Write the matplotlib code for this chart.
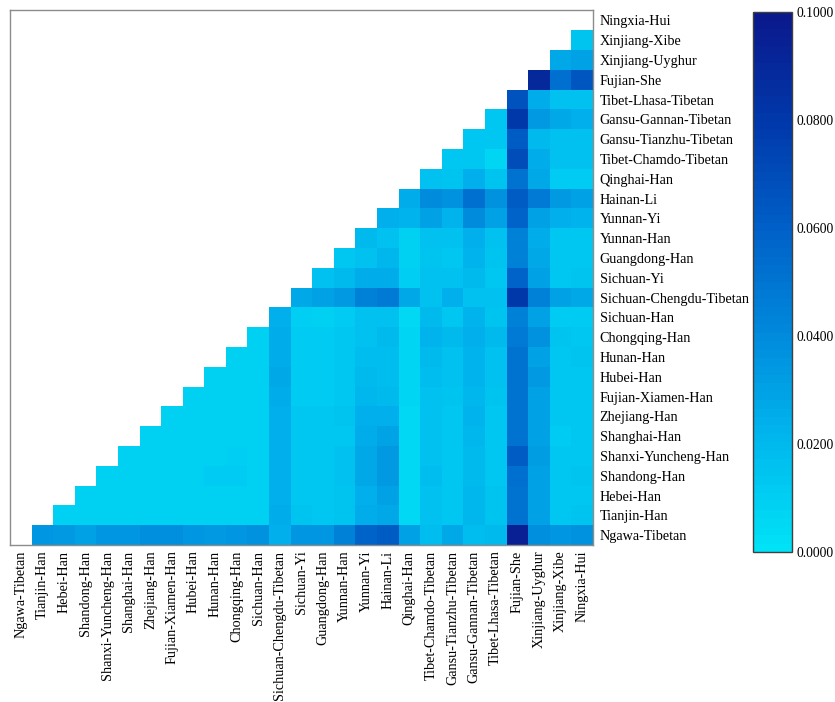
import numpy as np
import matplotlib
matplotlib.use("Agg")
import matplotlib.pyplot as plt
from matplotlib.colors import LinearSegmentedColormap

plt.rcParams["font.family"] = "serif"
plt.rcParams["font.serif"] = ["Liberation Serif", "DejaVu Serif"]

# Population order (bottom-to-top on y, left-to-right on x)
populations = [
    "Ngawa-Tibetan", "Tianjin-Han", "Hebei-Han", "Shandong-Han",
    "Shanxi-Yuncheng-Han", "Shanghai-Han", "Zhejiang-Han", "Fujian-Xiamen-Han",
    "Hubei-Han", "Hunan-Han", "Chongqing-Han", "Sichuan-Han",
    "Sichuan-Chengdu-Tibetan", "Sichuan-Yi", "Guangdong-Han", "Yunnan-Han",
    "Yunnan-Yi", "Hainan-Li", "Qinghai-Han", "Tibet-Chamdo-Tibetan",
    "Gansu-Tianzhu-Tibetan", "Gansu-Gannan-Tibetan", "Tibet-Lhasa-Tibetan",
    "Fujian-She", "Xinjiang-Uyghur", "Xinjiang-Xibe", "Ningxia-Hui",
]

# Pairwise Fst, row i holds the values against populations i+1 .. end
fst_rows = [
    [0.035, 0.034, 0.031, 0.035, 0.035, 0.038, 0.038, 0.035, 0.034, 0.035, 0.037, 0.024, 0.035,
     0.035, 0.045, 0.058, 0.062, 0.030, 0.018, 0.027, 0.018, 0.020, 0.095, 0.038, 0.035, 0.036],
    [0.008, 0.008, 0.009, 0.008, 0.008, 0.009, 0.009, 0.008, 0.009, 0.009, 0.026, 0.015, 0.014,
     0.015, 0.025, 0.028, 0.006, 0.017, 0.014, 0.021, 0.015, 0.050, 0.030, 0.013, 0.015],
    [0.008, 0.008, 0.008, 0.009, 0.009, 0.009, 0.009, 0.009, 0.009, 0.024, 0.014, 0.014, 0.015,
     0.024, 0.030, 0.006, 0.017, 0.014, 0.021, 0.015, 0.050, 0.030, 0.013, 0.014],
    [0.008, 0.008, 0.008, 0.009, 0.009, 0.011, 0.011, 0.009, 0.024, 0.014, 0.014, 0.016, 0.027,
     0.033, 0.006, 0.018, 0.014, 0.020, 0.014, 0.052, 0.031, 0.014, 0.015],
    [0.008, 0.008, 0.008, 0.008, 0.009, 0.010, 0.009, 0.024, 0.014, 0.014, 0.016, 0.027, 0.033,
     0.006, 0.017, 0.013, 0.020, 0.014, 0.062, 0.032, 0.013, 0.014],
    [0.008, 0.008, 0.008, 0.009, 0.009, 0.009, 0.024, 0.013, 0.013, 0.014, 0.026, 0.029, 0.006,
     0.017, 0.013, 0.021, 0.013, 0.050, 0.030, 0.012, 0.014],
    [0.008, 0.008, 0.008, 0.009, 0.009, 0.024, 0.014, 0.013, 0.015, 0.024, 0.024, 0.006, 0.017,
     0.013, 0.022, 0.014, 0.050, 0.030, 0.013, 0.013],
    [0.008, 0.008, 0.008, 0.008, 0.025, 0.012, 0.011, 0.014, 0.021, 0.020, 0.007, 0.017, 0.015,
     0.021, 0.015, 0.050, 0.030, 0.013, 0.014],
    [0.008, 0.008, 0.008, 0.027, 0.011, 0.011, 0.014, 0.020, 0.018, 0.007, 0.018, 0.017, 0.023,
     0.016, 0.050, 0.033, 0.013, 0.013],
    [0.008, 0.008, 0.026, 0.011, 0.011, 0.014, 0.018, 0.018, 0.007, 0.019, 0.017, 0.022, 0.016,
     0.050, 0.030, 0.013, 0.015],
    [0.008, 0.026, 0.011, 0.011, 0.013, 0.017, 0.019, 0.007, 0.023, 0.019, 0.024, 0.019, 0.048,
     0.036, 0.015, 0.014],
    [0.024, 0.010, 0.009, 0.011, 0.016, 0.016, 0.006, 0.019, 0.014, 0.022, 0.015, 0.045, 0.030,
     0.011, 0.012],
    [0.027, 0.030, 0.033, 0.045, 0.048, 0.027, 0.017, 0.024, 0.017, 0.016, 0.080, 0.045, 0.030,
     0.028],
    [0.017, 0.020, 0.025, 0.026, 0.010, 0.016, 0.017, 0.020, 0.013, 0.058, 0.030, 0.014, 0.015],
    [0.013, 0.017, 0.021, 0.008, 0.015, 0.014, 0.022, 0.015, 0.045, 0.027, 0.014, 0.014],
    [0.019, 0.017, 0.008, 0.017, 0.016, 0.024, 0.017, 0.045, 0.026, 0.013, 0.013],
    [0.024, 0.022, 0.030, 0.022, 0.040, 0.030, 0.058, 0.030, 0.024, 0.023],
    [0.026, 0.040, 0.037, 0.053, 0.036, 0.062, 0.048, 0.033, 0.030],
    [0.016, 0.015, 0.024, 0.015, 0.050, 0.027, 0.011, 0.012],
    [0.014, 0.013, 0.007, 0.070, 0.026, 0.017, 0.017],
    [0.014, 0.014, 0.062, 0.020, 0.016, 0.016],
    [0.014, 0.080, 0.033, 0.027, 0.024],
    [0.066, 0.026, 0.017, 0.016],
    [0.090, 0.052, 0.065],
    [0.027, 0.030],
    [0.015],
]

n = len(populations)
fst = np.full((n, n), np.nan)
for i, row in enumerate(fst_rows):
    fst[i, i + 1:i + 1 + len(row)] = row
fst = np.ma.masked_invalid(fst)

# cyan -> navy colour ramp, stepped
cmap = LinearSegmentedColormap.from_list(
    "fst_blue",
    [(0.0, "#00e2f6"), (0.2, "#00b8ee"), (0.4, "#008adc"),
     (0.6, "#0060c8"), (0.8, "#0038aa"), (1.0, "#0a198c")],
    N=64,
)

fig = plt.figure(figsize=(8.35, 7.02), dpi=100)
ax = fig.add_axes([0.012, 0.2236, 0.698, 0.7615])
mesh = ax.pcolormesh(np.arange(n + 1), np.arange(n + 1), fst,
                     cmap=cmap, vmin=0, vmax=0.1)
ax.set_xlim(0, n)
ax.set_ylim(0, n)

ticks = np.arange(n) + 0.5
ax.set_xticks(ticks)
ax.set_xticklabels(populations, rotation=90, fontsize=10.2)
ax.set_yticks(ticks)
ax.set_yticklabels(populations, fontsize=10.2)
ax.yaxis.tick_right()
ax.tick_params(axis="y", length=0, pad=5)
ax.tick_params(axis="x", length=0, pad=4)
for sp in ax.spines.values():
    sp.set_color("#8c8c8c")
    sp.set_linewidth(1)

cax = fig.add_axes([0.902, 0.2137, 0.047, 0.769])
cb = fig.colorbar(mesh, cax=cax, ticks=[0, 0.02, 0.04, 0.06, 0.08, 0.1],
                  format="%.4f")
cb.ax.tick_params(length=0, pad=3, labelsize=9.8)
cb.outline.set_edgecolor("#404040")
cb.outline.set_linewidth(1)

plt.savefig("out.png", dpi=100)
plt.close()
